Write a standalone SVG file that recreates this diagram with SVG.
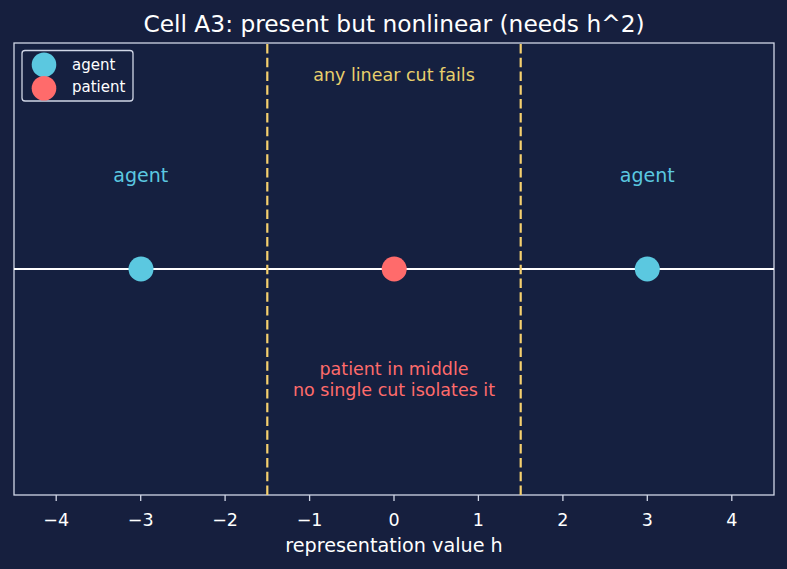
<svg xmlns="http://www.w3.org/2000/svg" width="787" height="569" viewBox="0 0 787 569">
<style>
text{font-family:"DejaVu Sans","Liberation Sans",sans-serif;}
.tick{fill:#ffffff;font-size:17.5px;text-anchor:middle;}
.tk{stroke:#d0d6e6;stroke-width:1.3;}
.cut{stroke:#f5d06e;stroke-width:2.2;stroke-dasharray:9.5,4.3;fill:none;}
.ag{fill:#5bc8e0;}
.pa{fill:#ff6b6b;}
</style>
<rect width="787" height="569" fill="#161f3e"/>
<text x="394" y="32" font-size="23.3" fill="#ffffff" text-anchor="middle">Cell A3: present but nonlinear (needs h^2)</text>
<g id="axes">
<rect x="14" y="43" width="760" height="452" fill="#152040" stroke="#d0d6e6" stroke-width="1.3"/>
<g id="ticks">
<line class="tk" x1="56.2" y1="495" x2="56.2" y2="501"/>
<line class="tk" x1="140.7" y1="495" x2="140.7" y2="501"/>
<line class="tk" x1="225.1" y1="495" x2="225.1" y2="501"/>
<line class="tk" x1="309.6" y1="495" x2="309.6" y2="501"/>
<line class="tk" x1="394" y1="495" x2="394" y2="501"/>
<line class="tk" x1="478.4" y1="495" x2="478.4" y2="501"/>
<line class="tk" x1="562.9" y1="495" x2="562.9" y2="501"/>
<line class="tk" x1="647.3" y1="495" x2="647.3" y2="501"/>
<line class="tk" x1="731.8" y1="495" x2="731.8" y2="501"/>
<text class="tick" x="56.2" y="526">−4</text>
<text class="tick" x="140.7" y="526">−3</text>
<text class="tick" x="225.1" y="526">−2</text>
<text class="tick" x="309.6" y="526">−1</text>
<text class="tick" x="394" y="526">0</text>
<text class="tick" x="478.4" y="526">1</text>
<text class="tick" x="562.9" y="526">2</text>
<text class="tick" x="647.3" y="526">3</text>
<text class="tick" x="731.8" y="526">4</text>
</g>
<text x="394" y="551.5" font-size="19.2" fill="#ffffff" text-anchor="middle">representation value h</text>
</g>
<g id="connectors">
<line x1="14" y1="269" x2="774" y2="269" stroke="#ffffff" stroke-width="1.8"/>
<line class="cut" x1="267.3" y1="495" x2="267.3" y2="43"/>
<line class="cut" x1="520.7" y1="495" x2="520.7" y2="43"/>
</g>
<g id="node-agent-left"><circle class="ag" cx="141" cy="269" r="12.5"/></g>
<g id="node-patient"><circle class="pa" cx="394.2" cy="269" r="12.5"/></g>
<g id="node-agent-right"><circle class="ag" cx="647.3" cy="269" r="12.5"/></g>
<g id="labels">
<text x="394" y="80.5" font-size="17.5" fill="#e8cf6c" text-anchor="middle">any linear cut fails</text>
<text x="140.7" y="182" font-size="19" fill="#5bc8e0" text-anchor="middle">agent</text>
<text x="647.3" y="182" font-size="19" fill="#5bc8e0" text-anchor="middle">agent</text>
<text x="394" y="374.5" font-size="17.5" fill="#ff6b6b" text-anchor="middle">patient in middle</text>
<text x="394" y="395.5" font-size="17.5" fill="#ff6b6b" text-anchor="middle">no single cut isolates it</text>
</g>
<g id="legend">
<rect x="22" y="50.5" width="111" height="50.5" rx="3" fill="#152040" stroke="#d0d6e6" stroke-width="1.3"/>
<circle class="ag" cx="44" cy="64.7" r="12.3"/>
<circle class="pa" cx="44" cy="88.3" r="12.3"/>
<text x="72" y="69.5" font-size="15" fill="#ffffff">agent</text>
<text x="72" y="92" font-size="15" fill="#ffffff">patient</text>
</g>
</svg>
